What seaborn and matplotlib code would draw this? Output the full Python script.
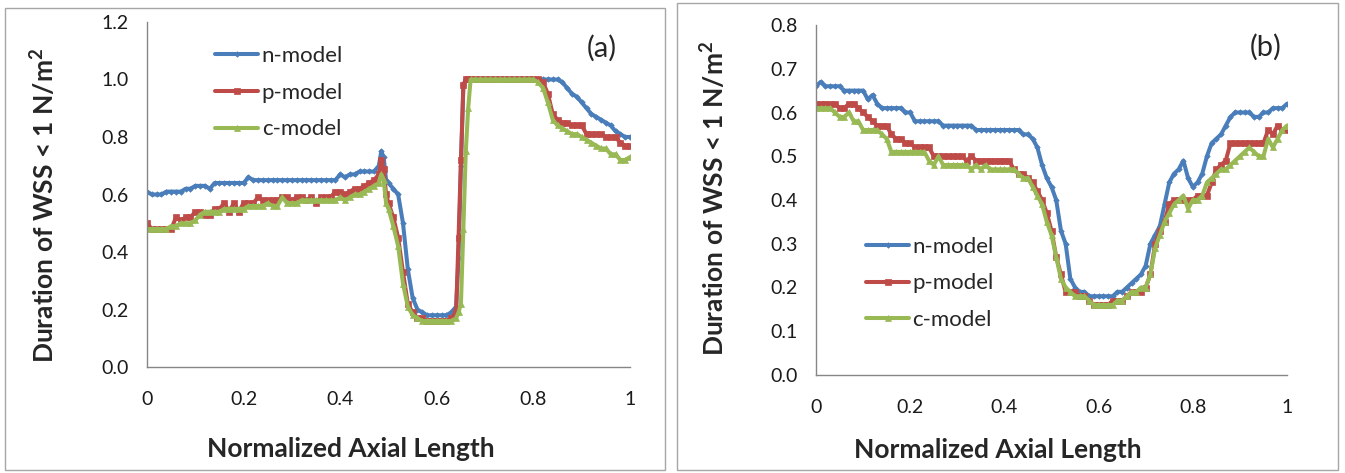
import pandas as pd
import matplotlib.pyplot as plt
import seaborn as sns
from matplotlib.patches import Rectangle

# Panel (a)
X_A = [
    0.00, 0.01, 0.02, 0.03, 0.04, 0.05, 0.06, 0.07, 0.08, 0.09,
    0.10, 0.11, 0.12, 0.13, 0.14, 0.15, 0.16, 0.17, 0.18, 0.19,
    0.20, 0.21, 0.22, 0.23, 0.24, 0.25, 0.26, 0.27, 0.28, 0.29,
    0.30, 0.31, 0.32, 0.33, 0.34, 0.35, 0.36, 0.37, 0.38, 0.39,
    0.40, 0.41, 0.42, 0.43, 0.44, 0.45, 0.46, 0.47, 0.48, 0.485, 0.49, 0.495,
    0.50, 0.51, 0.52, 0.53, 0.54, 0.55, 0.56, 0.57, 0.58, 0.59,
    0.60, 0.61, 0.62, 0.63, 0.64, 0.645, 0.65, 0.655, 0.66, 0.665,
    0.67, 0.68, 0.69,
    0.70, 0.71, 0.72, 0.73, 0.74, 0.75, 0.76, 0.77, 0.78, 0.79,
    0.80, 0.81, 0.82, 0.83, 0.84, 0.85, 0.86, 0.87, 0.88, 0.89,
    0.90, 0.91, 0.92, 0.93, 0.94, 0.95, 0.96, 0.97, 0.98, 0.99, 1.00,
]
N_A = [
    0.61, 0.60, 0.60, 0.60, 0.61, 0.61, 0.61, 0.61, 0.62, 0.62,
    0.63, 0.63, 0.63, 0.62, 0.64, 0.64, 0.64, 0.64, 0.64, 0.64,
    0.64, 0.66, 0.65, 0.65, 0.65, 0.65, 0.65, 0.65, 0.65, 0.65,
    0.65, 0.65, 0.65, 0.65, 0.65, 0.65, 0.65, 0.65, 0.65, 0.65,
    0.67, 0.66, 0.67, 0.67, 0.68, 0.68, 0.68, 0.68, 0.70, 0.75, 0.73, 0.65,
    0.64, 0.62, 0.60, 0.50, 0.34, 0.24, 0.20, 0.19, 0.18, 0.18,
    0.18, 0.18, 0.18, 0.19, 0.21, 0.38, 0.70, 0.98, 1.00, 1.00,
    1.00, 1.00, 1.00,
    1.00, 1.00, 1.00, 1.00, 1.00, 1.00, 1.00, 1.00, 1.00, 1.00,
    1.00, 1.00, 1.00, 1.00, 1.00, 1.00, 0.99, 0.97, 0.95, 0.94,
    0.92, 0.90, 0.88, 0.87, 0.86, 0.85, 0.84, 0.82, 0.81, 0.80, 0.80,
]
P_A = [
    0.50, 0.48, 0.48, 0.48, 0.48, 0.48, 0.52, 0.51, 0.52, 0.52,
    0.54, 0.54, 0.53, 0.53, 0.55, 0.55, 0.57, 0.54, 0.57, 0.54,
    0.57, 0.57, 0.57, 0.59, 0.58, 0.58, 0.58, 0.58, 0.59, 0.59,
    0.58, 0.59, 0.59, 0.58, 0.59, 0.57, 0.59, 0.59, 0.59, 0.61,
    0.61, 0.60, 0.61, 0.62, 0.62, 0.63, 0.64, 0.65, 0.67, 0.72, 0.69, 0.60,
    0.57, 0.52, 0.45, 0.33, 0.22, 0.19, 0.17, 0.17, 0.16, 0.16,
    0.16, 0.16, 0.16, 0.17, 0.19, 0.45, 0.72, 0.98, 1.00, 1.00,
    1.00, 1.00, 1.00,
    1.00, 1.00, 1.00, 1.00, 1.00, 1.00, 1.00, 1.00, 1.00, 1.00,
    1.00, 1.00, 0.99, 0.95, 0.88, 0.86, 0.85, 0.85, 0.84, 0.84,
    0.84, 0.81, 0.81, 0.81, 0.81, 0.80, 0.80, 0.80, 0.78, 0.77, 0.77,
]
C_A = [
    0.48, 0.48, 0.48, 0.48, 0.48, 0.49, 0.49, 0.50, 0.50, 0.50,
    0.51, 0.53, 0.54, 0.54, 0.54, 0.54, 0.55, 0.55, 0.55, 0.55,
    0.55, 0.56, 0.56, 0.56, 0.56, 0.57, 0.56, 0.56, 0.59, 0.57,
    0.57, 0.57, 0.58, 0.58, 0.58, 0.58, 0.58, 0.58, 0.58, 0.58,
    0.59, 0.58, 0.59, 0.60, 0.60, 0.61, 0.62, 0.63, 0.64, 0.67, 0.65, 0.57,
    0.55, 0.49, 0.42, 0.29, 0.21, 0.18, 0.17, 0.16, 0.16, 0.16,
    0.16, 0.16, 0.16, 0.16, 0.17, 0.19, 0.22, 0.48, 0.75, 0.90,
    1.00, 1.00, 1.00,
    1.00, 1.00, 1.00, 1.00, 1.00, 1.00, 1.00, 1.00, 1.00, 1.00,
    1.00, 0.99, 0.97, 0.92, 0.86, 0.84, 0.83, 0.82, 0.81, 0.81,
    0.80, 0.79, 0.78, 0.77, 0.76, 0.76, 0.74, 0.74, 0.72, 0.72, 0.73,
]

# Panel (b)
X_B = [
    0.00, 0.01, 0.02, 0.03, 0.04, 0.05, 0.06, 0.07, 0.08, 0.09,
    0.10, 0.11, 0.12, 0.13, 0.14, 0.15, 0.16, 0.17, 0.18, 0.19,
    0.20, 0.21, 0.22, 0.23, 0.24, 0.25, 0.26, 0.27, 0.28, 0.29,
    0.30, 0.31, 0.32, 0.33, 0.34, 0.35, 0.36, 0.37, 0.38, 0.39,
    0.40, 0.41, 0.42, 0.43, 0.44, 0.45, 0.46, 0.47, 0.48, 0.49,
    0.50, 0.51, 0.52, 0.53, 0.54, 0.55, 0.56, 0.57, 0.58, 0.59,
    0.60, 0.61, 0.62, 0.63, 0.64, 0.65, 0.66, 0.67, 0.68, 0.69,
    0.70, 0.71, 0.72, 0.73, 0.74, 0.75, 0.76, 0.77, 0.78, 0.79,
    0.80, 0.81, 0.82, 0.83, 0.84, 0.85, 0.86, 0.87, 0.88, 0.89,
    0.90, 0.91, 0.92, 0.93, 0.94, 0.95, 0.96, 0.97, 0.98, 0.99, 1.00,
]
N_B = [
    0.66, 0.67, 0.66, 0.66, 0.66, 0.66, 0.65, 0.65, 0.65, 0.65,
    0.65, 0.63, 0.64, 0.62, 0.61, 0.61, 0.61, 0.61, 0.61, 0.60,
    0.60, 0.58, 0.58, 0.58, 0.58, 0.58, 0.58, 0.57, 0.57, 0.57,
    0.57, 0.57, 0.57, 0.57, 0.56, 0.56, 0.56, 0.56, 0.56, 0.56,
    0.56, 0.56, 0.56, 0.56, 0.55, 0.55, 0.54, 0.52, 0.48, 0.45,
    0.43, 0.40, 0.33, 0.30, 0.22, 0.20, 0.19, 0.19, 0.18, 0.18,
    0.18, 0.18, 0.18, 0.18, 0.19, 0.19, 0.20, 0.21, 0.22, 0.23,
    0.25, 0.30, 0.32, 0.34, 0.39, 0.44, 0.46, 0.47, 0.49, 0.45,
    0.43, 0.44, 0.46, 0.50, 0.53, 0.54, 0.55, 0.57, 0.59, 0.60,
    0.60, 0.60, 0.60, 0.59, 0.59, 0.60, 0.60, 0.61, 0.61, 0.61, 0.62,
]
P_B = [
    0.62, 0.62, 0.62, 0.62, 0.62, 0.61, 0.61, 0.62, 0.62, 0.61,
    0.60, 0.59, 0.58, 0.57, 0.57, 0.57, 0.55, 0.54, 0.54, 0.53,
    0.53, 0.52, 0.52, 0.52, 0.52, 0.50, 0.50, 0.50, 0.50, 0.50,
    0.50, 0.50, 0.49, 0.50, 0.49, 0.49, 0.49, 0.49, 0.49, 0.49,
    0.49, 0.49, 0.47, 0.46, 0.46, 0.45, 0.44, 0.42, 0.40, 0.37,
    0.33, 0.27, 0.23, 0.19, 0.19, 0.19, 0.18, 0.18, 0.17, 0.16,
    0.16, 0.16, 0.16, 0.17, 0.17, 0.17, 0.18, 0.19, 0.19, 0.19,
    0.20, 0.23, 0.30, 0.33, 0.35, 0.39, 0.40, 0.40, 0.40, 0.40,
    0.40, 0.41, 0.41, 0.41, 0.44, 0.47, 0.48, 0.49, 0.53, 0.53,
    0.53, 0.53, 0.53, 0.53, 0.53, 0.53, 0.56, 0.55, 0.57, 0.56, 0.56,
]
C_B = [
    0.61, 0.61, 0.61, 0.61, 0.60, 0.59, 0.59, 0.60, 0.58, 0.58,
    0.56, 0.56, 0.56, 0.56, 0.55, 0.54, 0.51, 0.51, 0.51, 0.51,
    0.51, 0.51, 0.51, 0.51, 0.49, 0.48, 0.50, 0.48, 0.48, 0.48,
    0.48, 0.48, 0.48, 0.47, 0.48, 0.47, 0.48, 0.47, 0.47, 0.47,
    0.47, 0.47, 0.47, 0.46, 0.45, 0.45, 0.43, 0.41, 0.39, 0.35,
    0.32, 0.27, 0.22, 0.20, 0.19, 0.18, 0.18, 0.18, 0.17, 0.16,
    0.16, 0.16, 0.16, 0.16, 0.17, 0.17, 0.18, 0.19, 0.19, 0.20,
    0.20, 0.23, 0.29, 0.32, 0.35, 0.37, 0.39, 0.40, 0.41, 0.38,
    0.40, 0.40, 0.41, 0.44, 0.45, 0.46, 0.47, 0.47, 0.48, 0.49,
    0.50, 0.51, 0.52, 0.51, 0.50, 0.50, 0.54, 0.52, 0.54, 0.56, 0.57,
]

MODELS = ["n-model", "p-model", "c-model"]
COLORS = {"n-model": "#4A7EBB", "p-model": "#BE4B48", "c-model": "#98B954"}
MARKERS = {"n-model": "D", "p-model": "s", "c-model": "^"}
MSIZES = {"n-model": 2.8, "p-model": 4.2, "c-model": 4.8}

X_TICKS = [0, 0.2, 0.4, 0.6, 0.8, 1]
X_TICK_LABELS = ["0", "0.2", "0.4", "0.6", "0.8", "1"]
Y_TICKS_A = [0.0, 0.2, 0.4, 0.6, 0.8, 1.0, 1.2]
Y_TICKS_B = [0.0, 0.1, 0.2, 0.3, 0.4, 0.5, 0.6, 0.7, 0.8]

FONT = ["Lato", "DejaVu Sans"]
AXIS_GREY = "#868686"


def draw_panel(ax, x, series):
    """Draw the three model curves on one axes."""
    for name, vals in zip(MODELS, series):
        sns.lineplot(
            x=x, y=vals, ax=ax, color=COLORS[name], linewidth=2.9,
            marker=MARKERS[name], markersize=MSIZES[name],
            markeredgecolor=COLORS[name], markeredgewidth=0.5,
            label=name, sort=False,
        )


def style_axes(ax, yticks, tag, legend_xy, ylab_xy, xlab_xy, tag_xy):
    """Excel-like axes: grey left/bottom spines, outward ticks."""
    ax.set_xlim(0, 1)
    ax.set_ylim(yticks[0], yticks[-1])
    ax.set_xticks(X_TICKS)
    ax.set_xticklabels(X_TICK_LABELS)
    ax.set_yticks(yticks)
    ax.set_yticklabels([f"{v:.1f}" for v in yticks])
    sns.despine(ax=ax, top=True, right=True)
    for side in ["left", "bottom"]:
        ax.spines[side].set_color(AXIS_GREY)
        ax.spines[side].set_linewidth(1.0)
    ax.tick_params(axis="both", direction="out", length=4, width=1,
                   color=AXIS_GREY, labelsize=14, labelcolor="#1a1a1a")
    ax.tick_params(axis="x", pad=13)
    ax.tick_params(axis="y", pad=9)
    ax.set_xlabel("Normalized Axial Length", fontsize=19, fontweight="bold")
    ax.set_ylabel("Duration of WSS < 1 N/m$^\\mathregular{2}$", fontsize=19,
                  fontweight="bold")
    ax.xaxis.set_label_coords(*xlab_xy)
    ax.yaxis.set_label_coords(*ylab_xy)
    ax.text(tag_xy[0], tag_xy[1], tag, transform=ax.transAxes, fontsize=21,
            ha="center", va="center")
    ax.legend(loc="upper left", bbox_to_anchor=legend_xy, frameon=False,
              fontsize=16, handlelength=1.95, handletextpad=0.15,
              labelspacing=0.75, borderpad=0, borderaxespad=0, numpoints=1)


def main():
    sns.set_style("white")
    plt.rcParams["font.family"] = FONT
    plt.rcParams["mathtext.default"] = "bf"

    fig = plt.figure(figsize=(13.45, 4.73), dpi=100)
    fig.patches.append(Rectangle((5 / 1345, 3 / 473), 660 / 1345, 462 / 473,
                                 transform=fig.transFigure, fill=False,
                                 edgecolor="#A6A6A6", linewidth=1))
    fig.patches.append(Rectangle((677 / 1345, 3 / 473), 661 / 1345, 467 / 473,
                                 transform=fig.transFigure, fill=False,
                                 edgecolor="#A6A6A6", linewidth=1))

    ax_a = fig.add_axes([147 / 1345, 1 - 367 / 473, 483 / 1345, 345 / 473])
    ax_b = fig.add_axes([816 / 1345, 1 - 375 / 473, 471 / 1345, 350 / 473])

    draw_panel(ax_a, X_A, [N_A, P_A, C_A])
    draw_panel(ax_b, X_B, [N_B, P_B, C_B])

    style_axes(ax_a, Y_TICKS_A, "(a)", legend_xy=(0.141, 0.93),
               ylab_xy=(-0.184, 0.47), xlab_xy=(0.422, -0.203),
               tag_xy=(0.942, 0.925))
    style_axes(ax_b, Y_TICKS_B, "(b)", legend_xy=(0.106, 0.395),
               ylab_xy=(-0.187, 0.506), xlab_xy=(0.387, -0.18),
               tag_xy=(0.955, 0.937))

    fig.savefig("out.png", dpi=100)


if __name__ == "__main__":
    main()
